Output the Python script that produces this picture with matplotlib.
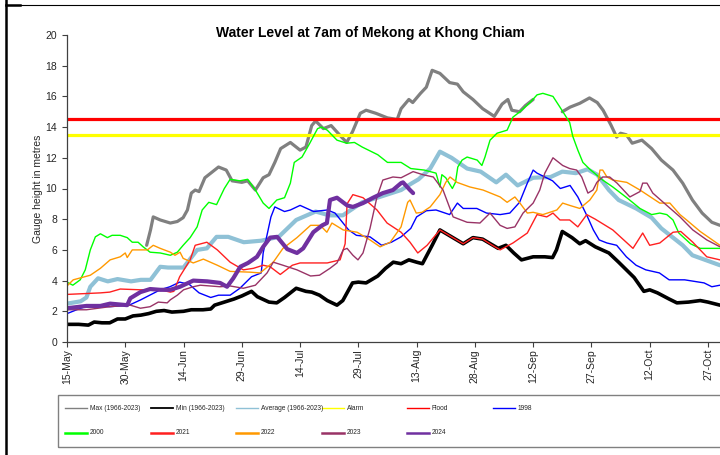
import numpy as np
import matplotlib
matplotlib.use("Agg")
import matplotlib.pyplot as plt
from matplotlib.lines import Line2D
from matplotlib.patches import Rectangle

plt.rcParams.update({
    "font.family": ["Liberation Sans", "DejaVu Sans"],
    "font.size": 7.5,
    "axes.linewidth": 0.9,
})

# ── axis / reference levels ────────────────────────────────────────────────
TICK_DAYS = [0, 15, 30, 45, 60, 75, 90, 105, 120, 135, 150, 165]   # days after 15-May
TICK_LABELS = ["15-May", "30-May", "14-Jun", "29-Jun", "14-Jul", "29-Jul",
               "13-Aug", "28-Aug", "12-Sep", "27-Sep", "12-Oct", "27-Oct"]
FLOOD = 14.5
ALARM = 13.5

# ── series (day after 15-May, gauge height m) ──────────────────────────────
max_days = [20.5, 21.5, 22.2, 24, 26.6, 28.4, 29.9, 31, 32, 33, 34, 35.5, 37, 39, 41,
            42.5, 45, 46.5, 48.5, 50.5, 52, 53.5, 55, 57.5, 60, 61.5, 63, 64, 66, 68,
            70.5, 72, 73.5, 75.5, 77, 79.5, 82.5, 85, 86, 88, 89, 91, 92.5, 94, 96,
            98.5, 100.5, 102, 104.5, 107, 110, 112, 113.5, 114.5, 116.5, 118, 120,
            121, 127.5, 129.5, 132, 134.5, 136.5, 138, 140, 141.5, 142.5, 144, 145.5,
            148, 150.5, 153, 156, 158.5, 161, 163.5, 166, 168.1]
max_vals = [6.3, 7.3, 8.15, 7.95, 7.75, 7.85, 8.1, 8.6, 9.7, 9.9, 9.8, 10.7, 11.0, 11.4,
            11.2, 10.5, 10.4, 10.5, 9.9, 10.7, 10.9, 11.7, 12.6, 13.0, 12.5, 12.7, 14.1,
            14.4, 13.9, 14.1, 13.4, 13.0, 13.7, 14.9, 15.1, 14.9, 14.6, 14.5, 15.2, 15.8,
            15.6, 16.2, 16.6, 17.7, 17.5, 16.9, 16.8, 16.3, 15.8, 15.2, 14.7, 15.5, 15.8,
            15.1, 15.0, 15.4, 15.8, np.nan, 15.0, 15.3, 15.55, 15.9, 15.6, 15.1, 14.15,
            13.35, 13.6, 13.5, 12.95, 13.15, 12.6, 11.85, 11.2, 10.35, 9.25, 8.4, 7.8, 7.6]

min_days = [0, 3, 5.5, 7, 9, 11, 13, 15, 17, 19, 21, 23, 25, 27, 30, 32, 35, 37, 38,
            40.5, 43, 45, 47.5, 49, 52, 54, 56, 59, 61.5, 63, 65, 67, 69.5, 71, 73.5, 75,
            77, 80, 82, 84, 86, 88, 90, 91.5, 94, 96, 98, 100, 102, 104.5, 107, 109, 111,
            113, 115, 117, 120, 123, 125, 126, 127.5, 130, 132, 133.5, 136, 139.5, 142,
            144, 146, 148.5, 150, 152, 155, 157, 160, 163, 165, 168.1]
min_vals = [1.15, 1.15, 1.1, 1.3, 1.25, 1.25, 1.5, 1.5, 1.7, 1.75, 1.85, 2.0, 2.05, 1.95,
            2.0, 2.1, 2.1, 2.15, 2.4, 2.6, 2.8, 3.0, 3.3, 2.95, 2.6, 2.55, 2.9, 3.5, 3.3,
            3.25, 3.05, 2.7, 2.4, 2.7, 3.85, 3.9, 3.85, 4.3, 4.8, 5.2, 5.1, 5.35, 5.2, 5.1,
            6.3, 7.3, 7.0, 6.7, 6.4, 6.8, 6.7, 6.4, 6.1, 6.3, 5.8, 5.35, 5.55, 5.55, 5.5,
            6.0, 7.2, 6.8, 6.4, 6.6, 6.2, 5.8, 5.2, 4.7, 4.2, 3.3, 3.4, 3.2, 2.8, 2.55,
            2.6, 2.7, 2.6, 2.4]

avg_days = [0, 3.5, 5, 6, 8, 10.5, 13, 16.5, 19, 21.5, 24, 26, 30, 33.5, 36, 38.5, 41.5,
            45.5, 50, 54.5, 59, 64, 67.5, 71, 76, 80.5, 86, 88.5, 90.5, 93.5, 96, 99, 103,
            106.5, 110.5, 113, 116, 120, 124.5, 127.5, 131, 134, 136.5, 139.5, 142, 146.5,
            150.5, 153, 157, 158.5, 161, 168.1]
avg_vals = [2.5, 2.65, 2.9, 3.6, 4.15, 3.95, 4.1, 3.95, 4.05, 4.05, 4.9, 4.85, 4.85, 6.0,
            6.1, 6.85, 6.85, 6.5, 6.6, 6.85, 7.95, 8.5, 8.25, 8.25, 9.1, 9.45, 9.9, 10.3,
            10.6, 11.3, 12.4, 12.0, 11.3, 11.1, 10.4, 10.9, 10.2, 10.7, 10.75, 11.1, 11.0,
            11.25, 10.9, 9.9, 9.25, 8.7, 8.1, 7.4, 6.6, 6.3, 5.65, 5.0]

y1998_days = [0, 3.5, 6, 11, 16, 19, 24, 26.5, 29, 31.5, 34, 37, 39, 42, 44.5, 47.5, 50,
              50.5, 52.5, 53.5, 56, 57.5, 60, 63.5, 67, 69, 72.5, 74.5, 78, 81, 83.5, 86,
              88.5, 90, 92.5, 95, 98.5, 100.5, 102, 105.5, 108, 111.5, 114, 116.5, 118.5,
              120, 121, 123, 125, 127, 129.5, 131.5, 134, 135.5, 137, 139, 141.5, 144,
              146.5, 149, 152.5, 155, 159, 164, 166, 168.1]
y1998_vals = [1.85, 2.2, 2.4, 2.3, 2.4, 2.75, 3.4, 3.6, 3.9, 3.75, 3.2, 2.9, 3.05, 3.05,
              3.5, 4.25, 4.5, 5.8, 8.15, 8.8, 8.5, 8.6, 8.9, 8.5, 8.6, 8.4, 7.3, 6.95, 6.85,
              6.3, 6.5, 6.85, 7.4, 8.15, 8.55, 8.6, 8.3, 9.05, 8.7, 8.7, 8.4, 8.3, 8.4, 9.1,
              10.35, 11.2, 11.0, 10.75, 10.5, 10.0, 10.2, 9.45, 8.15, 7.3, 6.65, 6.45, 6.3,
              5.55, 5.0, 4.7, 4.5, 4.05, 4.05, 3.85, 3.6, 3.7]

y2000_days = [0, 1.5, 3.4, 4.7, 6, 7.3, 8.6, 10.4, 11.6, 13.7, 15.5, 16.8, 18.3, 19.6,
              21.4, 24, 26.6, 28.4, 29.9, 31.7, 33.5, 34.8, 36.5, 38.5, 40.5, 42, 44.5,
              46.5, 48.5, 50.5, 52, 54, 56, 57.5, 58.5, 60.5, 62.5, 64.5, 65.5, 67, 69.5,
              72, 74, 76, 80, 82.5, 86, 88.5, 92, 95, 96, 96.5, 97.5, 99.2, 100, 100.6,
              101.7, 103, 105.6, 106.8, 107.6, 108.9, 110.7, 113.3, 114.8, 116.6, 119.2,
              121, 122.5, 125.1, 126.9, 129.4, 130.2, 131.5, 132.8, 134.6, 137.9, 140.5,
              144.1, 147.5, 150.5, 152.6, 154.4, 156, 157.5, 160.5, 163, 168.1]
y2000_vals = [3.9, 3.7, 4.05, 4.7, 6.0, 6.85, 7.05, 6.8, 6.95, 6.95, 6.8, 6.5, 6.5, 6.2,
              5.85, 5.8, 5.65, 5.85, 6.3, 6.8, 7.5, 8.6, 9.1, 8.95, 10.0, 10.6, 10.5, 10.6,
              9.9, 9.05, 8.7, 9.25, 9.4, 10.35, 11.7, 12.05, 12.95, 13.9, 14.0, 13.8, 13.15,
              12.95, 13.0, 12.7, 12.2, 11.7, 11.7, 11.3, 11.2, 11.0, 10.1, 10.9, 10.7, 10.0,
              10.4, 11.4, 11.85, 12.05, 11.85, 11.5, 12.05, 13.15, 13.6, 13.8, 14.65, 15.0,
              15.6, 16.1, 16.2, 16.0, 15.3, 14.3, 13.4, 12.5, 11.7, 11.25, 10.55, 10.1, 9.4,
              8.7, 8.3, 8.4, 8.3, 7.95, 7.1, 6.4, 6.1, 6.1]

y2021_days = [0, 8.6, 11, 13.7, 19, 24, 26.6, 27.5, 29, 31.7, 33, 36, 38.7, 42, 45.4, 48,
              50.5, 52.3, 54.9, 58, 60, 63.4, 67, 70.3, 71.6, 72.1, 73.6, 76.2, 79.8, 82.4,
              86, 88.3, 90.3, 92.7, 96, 98, 100, 102, 104.5, 107, 109.5, 111.5, 114.8,
              118.5, 121, 123.5, 125.1, 126.9, 129.4, 131.5, 133.8, 136, 140.5, 145.7,
              148.2, 150, 152.6, 156, 158, 161.1, 164.7, 168.1]
y2021_vals = [3.1, 3.2, 3.25, 3.45, 3.4, 3.4, 3.25, 3.3, 4.25, 5.35, 6.3, 6.5, 6.0, 5.2,
              4.7, 4.8, 5.0, 4.9, 4.4, 5.0, 5.15, 5.15, 5.15, 5.35, 6.4, 9.0, 9.6, 9.4, 8.6,
              7.75, 7.15, 6.5, 5.8, 6.3, 7.3, 7.0, 6.7, 6.4, 6.8, 6.7, 6.3, 6.0, 6.45, 7.1,
              8.3, 8.15, 8.4, 7.95, 7.95, 7.5, 8.3, 8.0, 7.3, 6.1, 7.1, 6.3, 6.45, 7.15, 7.2,
              6.5, 5.55, 5.35]

y2022_days = [0, 1.6, 6, 8.6, 11.1, 13.7, 15, 15.5, 16.8, 20.7, 22.2, 24, 26.6, 27.8,
              29.1, 29.9, 32.5, 35.1, 38.7, 42, 47.1, 49.7, 53.1, 55.6, 59.2, 62.7, 65.2,
              66.9, 68.2, 71.1, 74.7, 78, 80.6, 83.2, 86, 87.7, 88.3, 89.9, 91.4, 93.5, 96,
              97.5, 98.6, 100.4, 103.7, 107.1, 111.5, 113.3, 115.3, 116.6, 118.5, 120,
              122.5, 126.1, 127.6, 129.4, 132, 134.6, 136.4, 137.2, 137.9, 139, 140.5,
              144.1, 147.5, 150.5, 152.6, 155.2, 157.8, 159.5, 163, 168.1]
y2022_vals = [3.65, 4.05, 4.35, 4.8, 5.35, 5.55, 5.8, 5.5, 6.0, 6.0, 6.3, 6.1, 5.85, 5.65,
              5.85, 5.45, 5.15, 5.4, 5.0, 4.6, 4.55, 4.5, 5.2, 6.1, 6.8, 7.6, 7.6, 7.15,
              7.75, 7.3, 7.15, 6.65, 6.2, 6.5, 7.5, 9.1, 9.25, 8.4, 8.45, 8.8, 9.6, 10.4,
              10.75, 10.4, 10.1, 9.9, 9.45, 9.1, 9.45, 9.05, 8.4, 8.45, 8.3, 8.6, 9.05, 8.9,
              8.7, 9.25, 9.9, 11.2, 11.2, 10.75, 10.55, 10.4, 9.9, 9.4, 9.05, 9.05, 8.3,
              7.95, 7.2, 6.3]

y2023_days = [0, 5, 11, 16.3, 18.9, 21.4, 23.5, 25.8, 26.6, 28.4, 30, 32.5, 34.3, 39.4,
              42, 45.4, 48.5, 51.5, 53.1, 55.6, 59.2, 62.7, 65, 67.7, 69.5, 71.1, 72.1,
              73.6, 74.9, 76.2, 78, 79.8, 81.3, 83.9, 86, 89.1, 91.6, 94.3, 96.8, 99.4,
              103, 106.3, 108.9, 111.5, 113.3, 115.3, 117.4, 120, 121.7, 123, 125.1, 127.6,
              129.4, 131.2, 132.5, 134.1, 135.4, 136.4, 137.9, 139.7, 141.6, 144.9, 147.5,
              148.2, 149.3, 150.8, 154.4, 157.8, 161.1, 164.7, 168.1]
y2023_vals = [2.1, 2.1, 2.3, 2.4, 2.2, 2.3, 2.6, 2.55, 2.75, 3.05, 3.4, 3.6, 3.7, 3.6,
              3.65, 3.5, 3.7, 4.5, 5.2, 5.0, 4.7, 4.3, 4.35, 4.8, 5.15, 6.0, 6.1, 5.65, 5.35,
              5.8, 7.4, 9.45, 10.55, 10.75, 10.7, 11.1, 10.9, 10.75, 9.9, 8.15, 7.8, 7.75,
              8.4, 7.6, 7.4, 7.5, 8.4, 9.05, 9.9, 11.0, 12.0, 11.5, 11.3, 11.2, 10.75, 9.7,
              9.9, 10.4, 10.75, 10.75, 10.35, 9.45, 9.8, 10.35, 10.35, 9.7, 8.9, 8.15, 7.3,
              6.65, 6.2]

y2024_days = [0, 5, 8.6, 11.1, 15.5, 16.3, 18.9, 21.4, 24, 26.6, 29.1, 32.5, 36.1, 39.4,
              41.2, 42.8, 44.6, 46.6, 48.9, 50.5, 52.3, 54.1, 56.7, 59.2, 60.8, 63.4, 65.7,
              66.9, 67.7, 69.5, 72.1, 73.6, 76.2, 78.8, 81.3, 83.9, 86, 86.5, 88.3, 89.1]
y2024_vals = [2.2, 2.35, 2.35, 2.5, 2.4, 2.85, 3.25, 3.45, 3.4, 3.4, 3.6, 4.0, 3.95, 3.85,
              3.6, 4.15, 4.9, 5.15, 5.55, 6.2, 6.8, 6.85, 6.05, 5.8, 6.1, 7.15, 7.6, 7.75,
              9.25, 9.4, 8.9, 8.8, 9.05, 9.4, 9.7, 9.9, 10.35, 10.4, 9.9, 9.7]

# (label, colour, plot lw, legend lw)
STYLE = {
    "Max (1966-2023)": ("#808080", 2.3, 1.0),
    "Min (1966-2023)": ("#000000", 2.6, 1.3),
    "Average (1966-2023)": ("#8FC1D6", 3.0, 1.0),
    "Alarm": ("#FFFF00", 2.3, 1.0),
    "Flood": ("#FF0000", 2.3, 1.0),
    "1998": ("#0000FF", 1.0, 1.0),
    "2000": ("#00FF00", 1.0, 1.8),
    "2021": ("#FF2020", 1.0, 1.8),
    "2022": ("#FF9900", 1.0, 1.8),
    "2023": ("#993366", 1.0, 1.8),
    "2024": ("#7030A0", 3.0, 1.8),
}

fig = plt.figure(figsize=(7.2, 4.55), dpi=100)
ax = fig.add_axes([67 / 720, 1 - 342 / 455, 1 - 67 / 720, 307 / 455])

def draw(days, vals, name):
    c, lw, _ = STYLE[name]
    ax.plot(days, vals, color=c, lw=lw, solid_joinstyle="round", solid_capstyle="round")

draw(max_days, max_vals, "Max (1966-2023)")
draw(min_days, min_vals, "Min (1966-2023)")
draw(avg_days, avg_vals, "Average (1966-2023)")
ax.axhline(ALARM, color=STYLE["Alarm"][0], lw=STYLE["Alarm"][1])
ax.axhline(FLOOD, color=STYLE["Flood"][0], lw=STYLE["Flood"][1])
draw(y1998_days, y1998_vals, "1998")
draw(y2000_days, y2000_vals, "2000")
draw(y2021_days, y2021_vals, "2021")
draw(y2022_days, y2022_vals, "2022")
draw(y2023_days, y2023_vals, "2023")
draw(y2024_days, y2024_vals, "2024")

ax.set_xlim(0, 168.1)
ax.set_ylim(0, 20)
ax.set_yticks(range(0, 21, 2))
ax.set_xticks(TICK_DAYS)
ax.set_xticklabels(TICK_LABELS, rotation=90)
ax.tick_params(axis="both", direction="out", length=3.5, width=0.8,
               colors="#404040", labelcolor="#262626", labelsize=7.5)
ax.tick_params(axis="y", pad=3.5)
ax.tick_params(axis="x", pad=1.5)
for s in ("top", "right"):
    ax.spines[s].set_visible(False)
for s in ("left", "bottom"):
    ax.spines[s].set_color("#404040")
ax.set_ylabel("Gauge height in metres", fontsize=7.5, color="#262626")
ax.yaxis.set_label_coords(-0.037, 0.5)

fig.text(0.514, 1 - 33 / 455, "Water Level at 7am of Mekong at Khong Chiam",
         ha="center", va="center", fontsize=10, fontweight="bold")

# legend box drawn Excel-style: fixed column pitch, two rows
fig.add_artist(Rectangle((58 / 720, 1 - 447 / 455), 700 / 720, 52 / 455,
                         transform=fig.transFigure, fill=False, ec="#808080", lw=1.0))
col_x = [65, 150.5, 236, 321.5, 407, 492.5]
row_y = [408, 433]
for i, name in enumerate(STYLE):
    c, _, llw = STYLE[name]
    x0 = col_x[i % 6] / 720
    y0 = 1 - row_y[i // 6] / 455
    fig.add_artist(Line2D([x0, x0 + 22 / 720], [y0, y0], color=c, lw=llw,
                          transform=fig.transFigure))
    fig.text(x0 + 25 / 720, y0, name, fontsize=4.8, va="center", ha="left", color="#262626")

# outer frame fragments of the source document
fig.add_artist(Line2D([6 / 720, 6 / 720], [0, 1], color="black", lw=1.8, transform=fig.transFigure))
fig.add_artist(Line2D([6 / 720, 1], [1 - 4.5 / 455] * 2, color="black", lw=0.8, transform=fig.transFigure))
fig.add_artist(Line2D([6 / 720, 20 / 720], [1 - 4.5 / 455] * 2, color="black", lw=1.8, transform=fig.transFigure))

fig.savefig("out.png", dpi=100)
